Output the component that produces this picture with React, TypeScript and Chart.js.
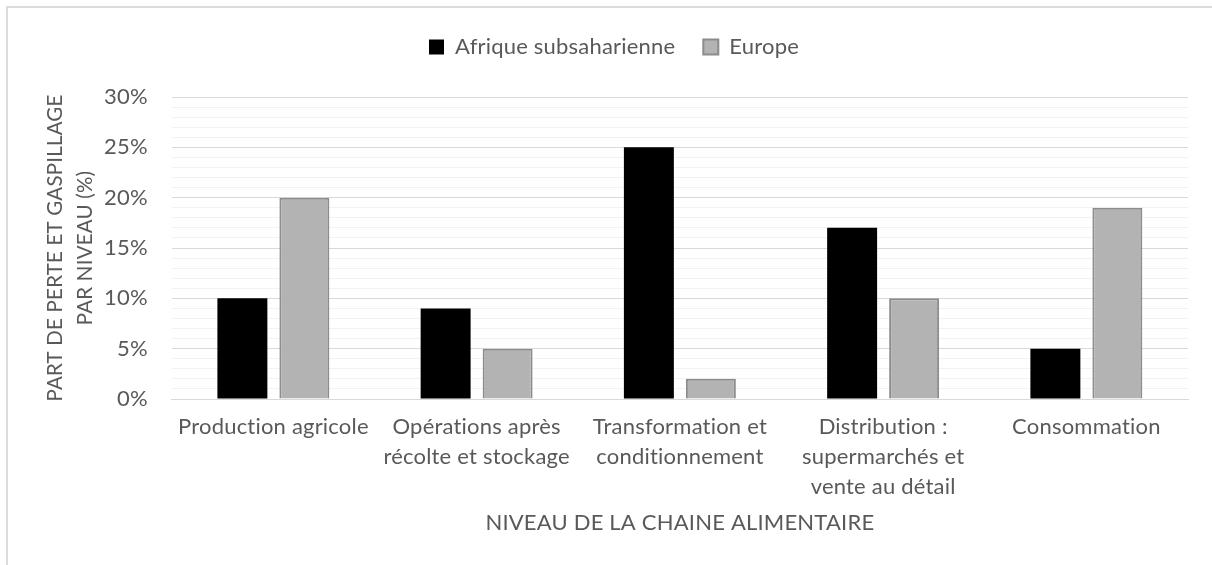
import React, { useEffect, useRef } from "react";
import { Chart, registerables } from "chart.js";

Chart.register(...registerables);

const categories: (string | string[])[] = [
  "Production agricole",
  ["Opérations après", "récolte et stockage"],
  ["Transformation et", "conditionnement"],
  ["Distribution :", "supermarchés et", "vente au détail"],
  "Consommation",
];
const afriqueValues = [10, 9, 25, 17, 5];
const europeValues = [20, 5, 2, 10, 19];
const seriesNames = ["Afrique subsaharienne", "Europe"];
const yTitle = ["PART DE PERTE ET GASPILLAGE", "PAR NIVEAU (%)"];
const xTitle = "NIVEAU DE LA CHAINE ALIMENTAIRE";

const FONT = "Lato, 'Open Sans', sans-serif";
const TXT = "#595959";
const FS = 22;

const spacingPlugin = {
  id: "spacing",
  beforeInit(chart: any) {
    const legend = chart.legend;
    if (legend) {
      const orig = legend.fit;
      legend.fit = function () {
        orig.call(this);
        this.height += 29;
      };
    }
  },
  beforeUpdate(chart: any) {
    try { chart.ctx.letterSpacing = "0.2px"; } catch (e) {}
  },
  beforeLayout(chart: any) {
    try { chart.ctx.letterSpacing = "0.2px"; } catch (e) {}
  },
  beforeDraw(chart: any) {
    try { chart.ctx.letterSpacing = "0.2px"; } catch (e) {}
  },
};

export default function App() {
  const ref = useRef<HTMLCanvasElement | null>(null);
  useEffect(() => {
    if (!ref.current) return;
    const chart = new Chart(ref.current, {
      type: "bar",
      plugins: [spacingPlugin],
      data: {
        labels: categories,
        datasets: [
          {
            label: seriesNames[0],
            data: afriqueValues,
            backgroundColor: "#000000",
            borderColor: "#000000",
            borderWidth: 0,
            categoryPercentage: 0.61,
            barPercentage: 0.806,
          },
          {
            label: seriesNames[1],
            data: europeValues,
            backgroundColor: "#b3b3b3",
            borderColor: "#8c8c8c",
            borderWidth: 2,
            categoryPercentage: 0.61,
            barPercentage: 0.806,
          },
        ],
      },
      options: {
        responsive: false,
        animation: false,
        devicePixelRatio: 1,
        layout: { padding: { left: 40, right: 24, top: 8, bottom: 27 } },
        plugins: {
          tooltip: { enabled: false },
          legend: {
            position: "top",
            labels: {
              boxWidth: 15,
              boxHeight: 15,
              padding: 28,
              color: TXT,
              font: { family: FONT, size: FS },
            },
          },
        },
        scales: {
          x: {
            grid: { display: false, drawTicks: false },
            border: { display: true, color: "#d9d9d9", width: 1 },
            ticks: {
              color: TXT,
              font: { family: FONT, size: FS, lineHeight: 30 / FS },
              padding: 13,
              maxRotation: 0,
              autoSkip: false,
            },
            title: {
              display: true,
              text: xTitle,
              color: TXT,
              font: { family: FONT, size: FS, lineHeight: 30 / FS },
              padding: { top: -7, bottom: 0 },
            },
          },
          y: {
            min: 0,
            max: 30,
            grid: {
              drawTicks: false,
              color: (c: any) => (c.tick && c.tick.value % 5 === 0 ? "#d9d9d9" : "#f2f2f2"),
              lineWidth: 1,
            },
            border: { display: false },
            ticks: {
              stepSize: 1,
              autoSkip: false,
              color: TXT,
              padding: 24,
              font: { family: FONT, size: FS },
              callback: (v: any) => (Number(v) % 5 === 0 ? v + "%" : ""),
            },
            title: {
              display: true,
              text: yTitle,
              color: TXT,
              font: { family: FONT, size: 20.5, lineHeight: 30 / 20.5 },
              padding: { top: 0, bottom: -20 },
            },
          },
        },
      },
    });
    return () => chart.destroy();
  }, []);

  return (
    <div
      style={{
        position: "fixed",
        left: 0,
        top: 0,
        width: 1212,
        height: 565,
        overflow: "hidden",
        background: "#ffffff",
      }}
    >
      <div
        style={{
          position: "absolute",
          left: 6,
          top: 6,
          width: 1300,
          height: 700,
          borderLeft: "2px solid #dcdcdc",
          borderTop: "2px solid #dcdcdc",
          boxSizing: "border-box",
        }}
      />
      <canvas
        ref={ref}
        width={1212}
        height={565}
        style={{ position: "absolute", left: 0, top: 0, width: 1212, height: 565 }}
      />
    </div>
  );
}
